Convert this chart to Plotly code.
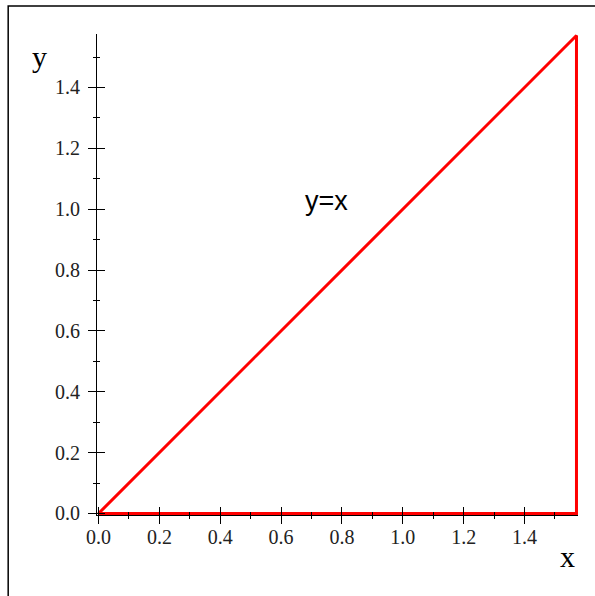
import math
import plotly.graph_objects as go

# Data: triangle bounded by y=x, x=pi/2 and y=0
tri_x = [0.0, math.pi / 2, math.pi / 2, 0.0]
tri_y = [0.0, math.pi / 2, 0.0, 0.0]
tick_vals = [0.0, 0.2, 0.4, 0.6, 0.8, 1.0, 1.2, 1.4]
tick_text = ["0.0", "0.2", "0.4", "0.6", "0.8", "1.0", "1.2", "1.4"]
label_text = "y=x"
label_pos = (0.748, 1.026)

W, H = 595, 596
pad = 0.005
rng = [-pad, math.pi / 2 + pad]
L, PW = 96.5, 482.0
T, PH = 34.0, 480.6
R = W - L - PW
B = H - T - PH

fig = go.Figure()
fig.add_trace(go.Scatter(x=tri_x, y=tri_y, mode="lines",
                         line=dict(color="#ff0000", width=3),
                         hoverinfo="skip", showlegend=False))
# invisible trace for overlay axes
fig.add_trace(go.Scatter(x=[0], y=[0], xaxis="x2", yaxis="y2", mode="markers",
                         marker=dict(opacity=0), showlegend=False, hoverinfo="skip"))

tickfont = dict(family="Liberation Serif", size=20, color="#222")
common = dict(range=rng, showgrid=False, zeroline=False)

fig.update_layout(
    width=W, height=H,
    margin=dict(l=L, r=R, t=T, b=B, pad=0),
    paper_bgcolor="white", plot_bgcolor="white",
    xaxis=dict(**common, showline=True, linecolor="black", linewidth=1,
               tickmode="array", tickvals=tick_vals, ticktext=tick_text,
               ticks="outside", ticklen=8, tickcolor="black", tickwidth=1,
               tickfont=tickfont, ticklabelstandoff=-4,
               minor=dict(ticks="outside", ticklen=3, dtick=0.1, tick0=0,
                          tickcolor="black", showgrid=False)),
    yaxis=dict(**common, showline=True, linecolor="black", linewidth=1,
               tickmode="array", tickvals=tick_vals, ticktext=tick_text,
               ticks="outside", ticklen=8, tickcolor="black", tickwidth=1,
               tickfont=tickfont, ticklabelstandoff=4,
               minor=dict(ticks="outside", ticklen=3, dtick=0.1, tick0=0,
                          tickcolor="black", showgrid=False)),
    xaxis2=dict(**common, overlaying="x", anchor="y2", side="bottom",
                showline=False, showticklabels=False,
                tickmode="array", tickvals=tick_vals,
                ticks="inside", ticklen=8, tickcolor="black", tickwidth=1,
                minor=dict(ticks="inside", ticklen=3, dtick=0.1, tick0=0,
                           tickcolor="black", showgrid=False)),
    yaxis2=dict(**common, overlaying="y", anchor="x2", side="left",
                showline=False, showticklabels=False,
                tickmode="array", tickvals=tick_vals,
                ticks="inside", ticklen=8, tickcolor="black", tickwidth=1,
                minor=dict(ticks="inside", ticklen=3, dtick=0.1, tick0=0,
                           tickcolor="black", showgrid=False)),
)

# axis titles
fig.add_annotation(text="y", xref="paper", yref="paper",
                   x=(39 - L) / PW, y=(H - B - 56) / PH, showarrow=False,
                   font=dict(family="Liberation Serif", size=30, color="black"),
                   xanchor="center", yanchor="middle")
fig.add_annotation(text="x", xref="paper", yref="paper",
                   x=(568 - L) / PW, y=(H - B - 556) / PH, showarrow=False,
                   font=dict(family="Liberation Serif", size=30, color="black"),
                   xanchor="center", yanchor="middle")
# curve label
fig.add_annotation(text=label_text, x=label_pos[0], y=label_pos[1], xref="x", yref="y",
                   showarrow=False,
                   font=dict(family="Liberation Sans", size=27, color="black"),
                   xanchor="center", yanchor="middle")

# outer frame (top and left visible)
fig.add_shape(type="rect", xref="paper", yref="paper",
              x0=(7.5 - L) / PW, x1=(610 - L) / PW,
              y0=(H - B - 620) / PH, y1=(H - B - 6) / PH,
              line=dict(color="black", width=1.5), fillcolor="rgba(0,0,0,0)",
              layer="above")

fig.write_html("out.html", config={"displayModeBar": False},
               post_script="document.body.style.margin='0';document.body.style.overflow='hidden';")
